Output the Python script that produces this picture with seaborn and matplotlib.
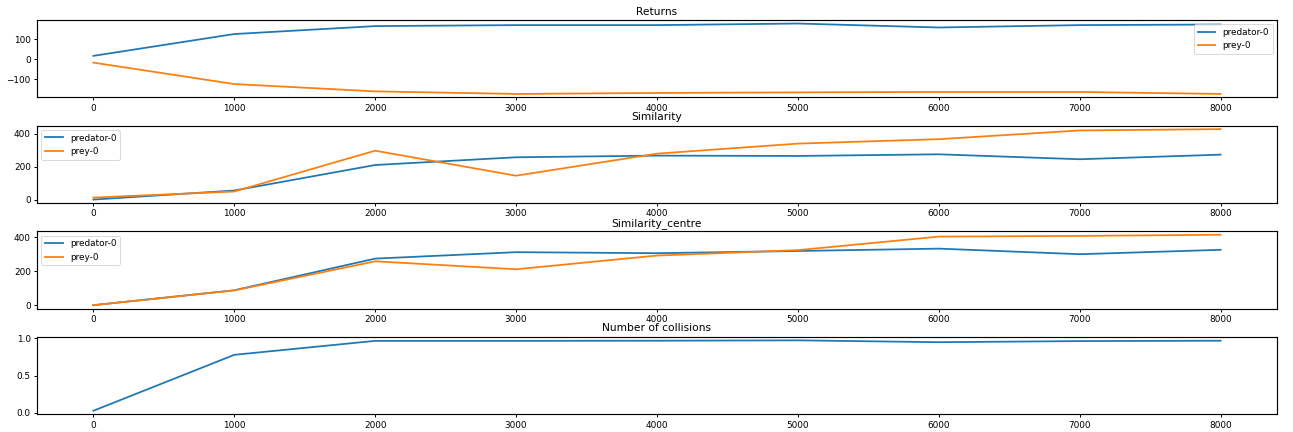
import matplotlib
matplotlib.use("Agg")
import matplotlib.pyplot as plt
import seaborn as sns

# Training checkpoints
steps = [0, 1000, 2000, 3000, 4000, 5000, 6000, 7000, 8000]

# Episode returns
returns_predator = [17, 127, 167, 172, 172, 180, 160, 172, 175]
returns_prey = [-17, -125, -162, -175, -170, -167, -165, -165, -175]

# Similarity
similarity_predator = [0, 55, 210, 257, 267, 265, 275, 245, 273]
similarity_prey = [12, 49, 297, 145, 279, 340, 367, 420, 428]

# Similarity to centre
centre_predator = [0, 88, 275, 313, 307, 320, 334, 301, 327]
centre_prey = [0, 87, 259, 212, 293, 325, 405, 409, 416]

# Collision rate
collisions_predator = [0.027, 0.78, 0.968, 0.968, 0.97, 0.975, 0.95, 0.965, 0.97]

titles = ["Returns", "Similarity", "Similarity_centre", "Number of collisions"]
labels = ["predator-0", "prey-0"]

blue, orange = sns.color_palette("tab10")[:2]

plt.rcParams["axes.linewidth"] = 1.3
plt.rcParams["xtick.major.width"] = 1.1
plt.rcParams["ytick.major.width"] = 1.1

dpi = 64
fig, axes = plt.subplots(4, 1, figsize=(1293 / dpi, 432 / dpi), dpi=dpi)
fig.subplots_adjust(left=37 / 1293, right=1277 / 1293,
                    top=1 - 20 / 432, bottom=1 - 414.3 / 432, hspace=0.363)

panels = [
    (returns_predator, returns_prey, "upper right"),
    (similarity_predator, similarity_prey, "upper left"),
    (centre_predator, centre_prey, "upper left"),
    (collisions_predator, None, None),
]

for ax, title, (pred, prey, loc) in zip(axes, titles, panels):
    sns.lineplot(x=steps, y=pred, ax=ax, color=blue, label=labels[0],
                 linewidth=2.0, legend=False)
    if prey is not None:
        sns.lineplot(x=steps, y=prey, ax=ax, color=orange, label=labels[1],
                     linewidth=2.0, legend=False)
        ax.legend(loc=loc)
    ax.set_title(title)
    ax.set_xticks(steps)
    ax.set_xlabel("")
    ax.set_ylabel("")

fig.savefig("out.png", dpi=dpi)
